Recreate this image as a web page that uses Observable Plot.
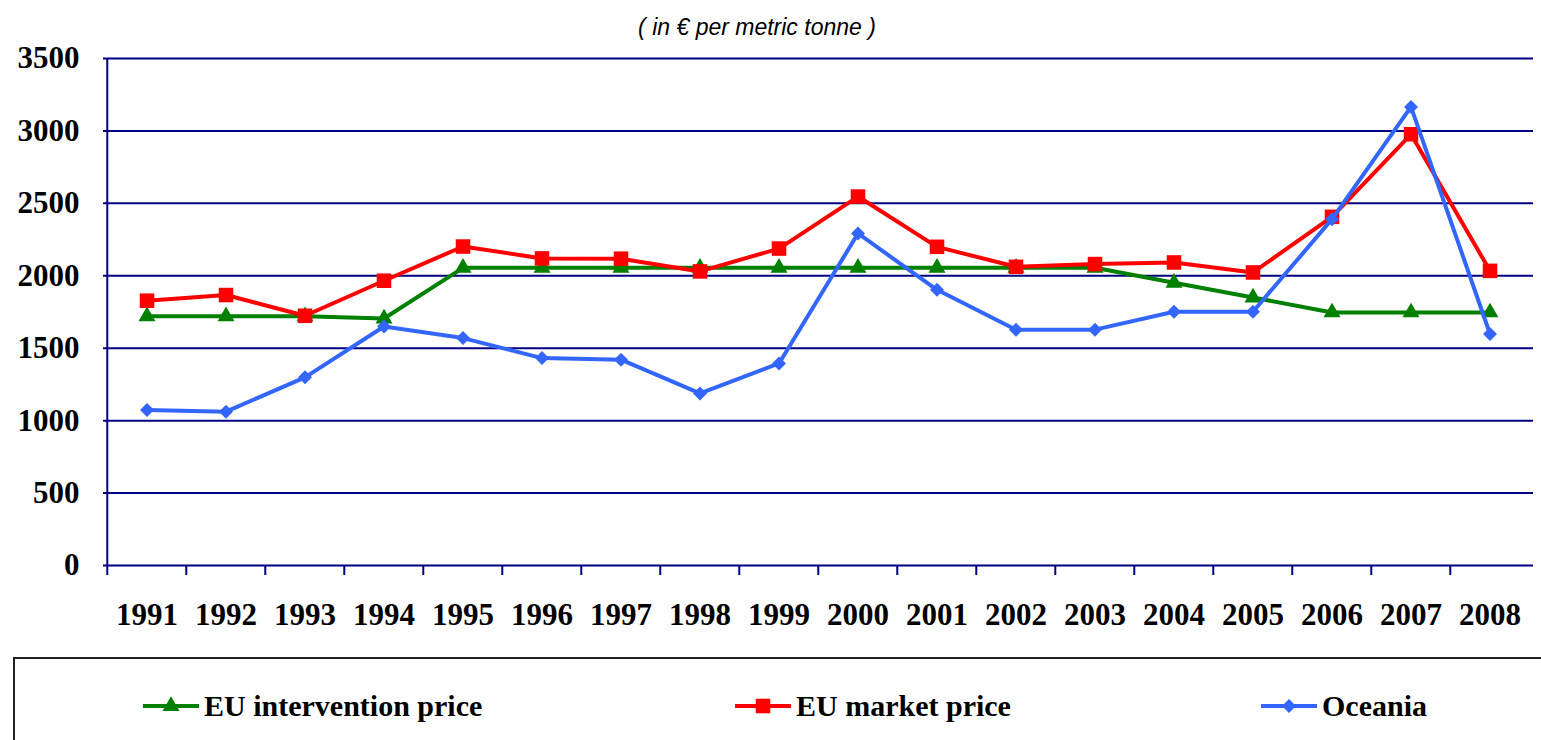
<!DOCTYPE html>
<html>
<head>
<meta charset="utf-8">
<script src="https://cdn.jsdelivr.net/npm/d3@7"></script>
<script src="https://cdn.jsdelivr.net/npm/@observablehq/plot@0.6"></script>
<style>
  html, body { margin: 0; padding: 0; background: #fff; width: 1541px; height: 740px; overflow: hidden; }
  #wrap { position: relative; width: 1541px; height: 740px; }
  #subtitle { position: absolute; left: 0; width: 1514px; top: 13px; text-align: center;
    font-family: "Liberation Sans", Arial, sans-serif; font-style: italic; font-size: 23px; line-height: 28px; color: #000; }
  #chart { position: absolute; left: 0; top: 40px; }
  #legend { position: absolute; left: 13px; top: 657px; width: 1540px; height: 100px;
    border-top: 2px solid #222; border-left: 2px solid #222; box-sizing: border-box; }
  .item { position: absolute; top: 30px; height: 34px; display: flex; align-items: center;
    font-family: "Liberation Serif", "Times New Roman", serif; font-weight: bold; font-size: 30px; color: #000; white-space: nowrap; }
  .item svg { margin-right: 4px; }
</style>
</head>
<body>
<div id="wrap">
  <div id="subtitle">( in € per metric tonne )</div>
  <div id="chart"></div>
  <div id="legend"></div>
</div>
<script>
const years = [1991,1992,1993,1994,1995,1996,1997,1998,1999,2000,2001,2002,2003,2004,2005,2006,2007,2008];
const intervention = [1720,1720,1720,1705,2055,2055,2055,2055,2055,2055,2055,2055,2055,1952,1850,1747,1747,1747];
const market = [1828,1867,1724,1966,2202,2120,2118,2030,2188,2547,2200,2062,2081,2092,2023,2407,2977,2034];
const oceania = [1074,1062,1299,1650,1570,1432,1421,1188,1395,2292,1903,1628,1628,1752,1752,2391,3166,1598];
const yTicks = [0,500,1000,1500,2000,2500,3000,3500];
const seriesNames = ["EU intervention price","EU market price","Oceania"];
const seriesColors = ["#008000","#FF0000","#3366FF"];
const seriesSymbols = ["triangle","square","diamond2"];
const seriesR = [6.3,8.2,6.3];

const series = [intervention, market, oceania];
const tables = series.map(arr => years.map((y,i) => ({year: y, value: arr[i]})));

const W = 1541, H = 615, ML = 103, MR = 8, MT = 18, MB = 90;
const bw = (W - ML - MR) / years.length;
const navy = "#000080";
const serif = "'Liberation Serif', 'Times New Roman', serif";

const marks = [
  Plot.ruleY(yTicks, {stroke: navy, strokeWidth: 2}),
  Plot.ruleX([years[0]], {dx: -bw/2, stroke: navy, strokeWidth: 2}),
  Plot.axisX({tickSize: 10, tickFormat: () => "", label: null, dx: -bw/2, stroke: navy, strokeWidth: 2}),
  Plot.axisX({tickSize: 0, tickPadding: 37, label: null, fontSize: 31, fontWeight: "bold", fontFamily: serif, fill: "#000", tickFormat: d => String(d)}),
  Plot.axisY(yTicks, {tickSize: 0, tickPadding: 24, label: null, fontSize: 31, fontWeight: "bold", fontFamily: serif, fill: "#000", tickFormat: d => String(d)})
];
tables.forEach((t, k) => {
  marks.push(Plot.line(t, {x: "year", y: "value", stroke: seriesColors[k], strokeWidth: 4}));
  marks.push(Plot.dot(t, {x: "year", y: "value", symbol: seriesSymbols[k], r: seriesR[k], fill: seriesColors[k], stroke: "none"}));
});

const chart = Plot.plot({
  width: W, height: H,
  marginLeft: ML, marginRight: MR, marginTop: MT, marginBottom: MB,
  x: {type: "band", domain: years, padding: 0, axis: null, label: null},
  y: {domain: [0, 3500], axis: null, label: null},
  style: {background: "white", color: "black", fontFamily: serif, fontSize: "31px", overflow: "visible"},
  marks
});
document.getElementById("chart").appendChild(chart);

// Legend
const legend = document.getElementById("legend");
const positions = [127, 719, 1245];
const symMap = {triangle: d3.symbolTriangle, square: d3.symbolSquare, diamond2: d3.symbolDiamond2};
seriesNames.forEach((name, k) => {
  const div = document.createElement("div");
  div.className = "item";
  div.style.left = positions[k] + "px";
  const svg = d3.create("svg").attr("width", 58).attr("height", 30);
  svg.append("line").attr("x1", 1).attr("x2", 57).attr("y1", 15).attr("y2", 15)
    .attr("stroke", seriesColors[k]).attr("stroke-width", 4);
  svg.append("path").attr("transform", "translate(29,15)")
    .attr("d", d3.symbol(symMap[seriesSymbols[k]], Math.PI * seriesR[k] * seriesR[k])())
    .attr("fill", seriesColors[k]);
  div.appendChild(svg.node());
  const span = document.createElement("span");
  span.textContent = name;
  div.appendChild(span);
  legend.appendChild(div);
});
</script>
</body>
</html>
